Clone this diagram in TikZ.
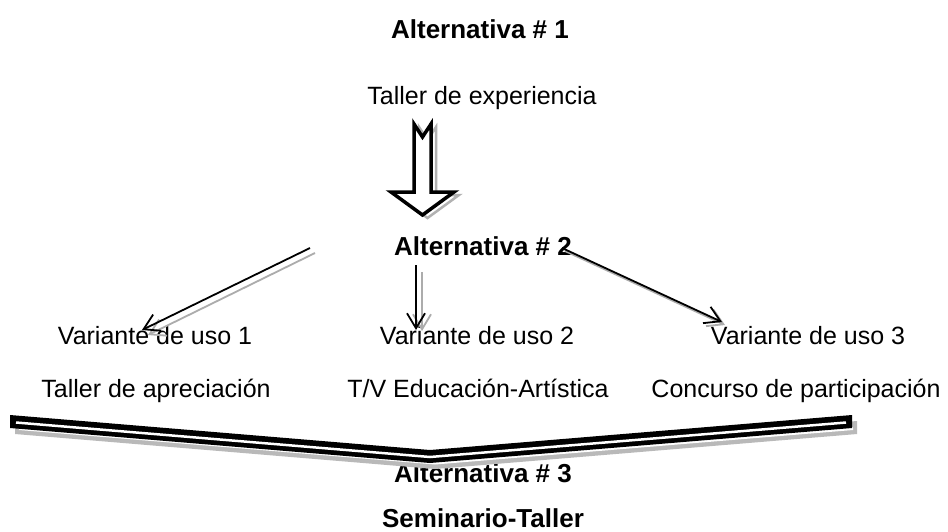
\documentclass[tikz,border=0pt]{standalone}
\usepackage{fontspec}
\setmainfont{Liberation Sans}
\usetikzlibrary{arrows.meta}
\begin{document}
\begin{tikzpicture}[x=1pt,y=-1pt,
  txt/.style={inner sep=0pt, anchor=base, font=\fontsize{25}{30}\selectfont},
  btxt/.style={inner sep=0pt, anchor=base, font=\fontsize{26}{31}\selectfont\bfseries},
  arr/.style={line width=1.8pt, -{Straight Barb[length=15pt,width=18pt]}},
  sharr/.style={arr, draw=gray!65},
  bigarrow/.style={fill=white, draw=black, line width=3.5pt, miter limit=20},
  bigshadow/.style={fill=white, draw=gray!60, line width=2.5pt, miter limit=20}]
\useasboundingbox (0,0) rectangle (948,531);
\fill[white] (0,0) rectangle (948,531);

% texts
\node[btxt] (alt1) at (480,38) {Alternativa \# 1};
\node[txt] (exp) at (482,104) {Taller de experiencia};
\node[btxt] (alt2) at (483,255) {Alternativa \# 2};
\node[txt] (v1) at (155,344) {Variante de uso 1};
\node[txt] (v2) at (477,344) {Variante de uso 2};
\node[txt] (v3) at (808,344) {Variante de uso 3};
\node[txt] (r1) at (156,397) {Taller de apreciación};
\node[txt] (r2) at (478,397) {T/V Educación-Artística};
\node[txt] (r3) at (796,397) {Concurso de participación};
\node[btxt] (alt3) at (483,482) {Alternativa \# 3};
\node[btxt] (sem) at (483,527) {Seminario-Taller};

% big hollow arrow (shadow then main)
\draw[bigshadow, shift={(5,3)}] (414,124) -- (422.5,137) -- (431,124) -- (431,192) -- (454,192)
  -- (422.5,215) -- (391,192) -- (414,192) -- cycle;
\draw[bigarrow] (414,124) -- (422.5,137) -- (431,124) -- (431,192) -- (454,192)
  -- (422.5,215) -- (391,192) -- (414,192) -- cycle;

% connectors
\coordinate (s1) at (310,248); \coordinate (e1) at (142,330);
\coordinate (s1g) at (315,253); \coordinate (e1g) at (148,335);
\coordinate (s2) at (416,265); \coordinate (e2) at (416,330);
\coordinate (s2g) at (422,272); \coordinate (e2g) at (422,331);
\coordinate (s3) at (562,248); \coordinate (e3) at (722,322);
\coordinate (s3g) at (565,251); \coordinate (e3g) at (725,325);
\draw[sharr] (s1g) -- (e1g);
\draw[sharr] (s2g) -- (e2g);
\draw[sharr] (s3g) -- (e3g);
\draw[arr] (s1) -- (e1);
\draw[arr] (s2) -- (e2);
\draw[arr] (s3) -- (e3);

% bottom band (shadow then main)
\begin{scope}[shift={(5,6)}]
  \fill[gray!55] (10,415) -- (430,450) -- (852,415) -- (852,428) -- (430,463) -- (10,428) -- cycle;
  \draw[white, line width=3pt, miter limit=20] (14,422.5) -- (430,457) -- (848,422.5);
\end{scope}
\fill[black] (10,415) -- (430,450) -- (852,415) -- (852,428) -- (430,463) -- (10,428) -- cycle;
\draw[white, line width=2.5pt, miter limit=20] (16,422.5) -- (430,457) -- (846,422.5);
\end{tikzpicture}
\end{document}
